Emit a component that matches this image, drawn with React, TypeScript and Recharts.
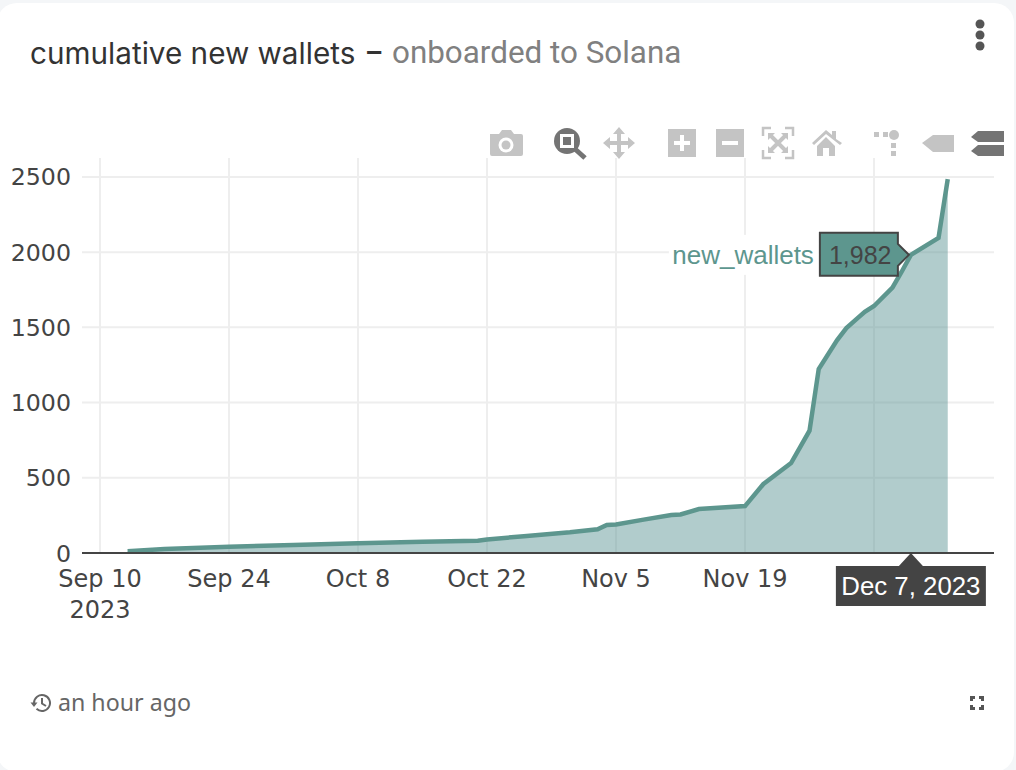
import React from 'react';
import { ComposedChart, Area, XAxis, YAxis, CartesianGrid, ReferenceDot } from 'recharts';

const dates = [
  '2023-09-13', '2023-09-17', '2023-09-24', '2023-10-01', '2023-10-08', '2023-10-15', '2023-10-21', '2023-10-22',
  '2023-10-26', '2023-10-31', '2023-11-03', '2023-11-04', '2023-11-05', '2023-11-08', '2023-11-11', '2023-11-12',
  '2023-11-14', '2023-11-19', '2023-11-21', '2023-11-24', '2023-11-26', '2023-11-27', '2023-11-29', '2023-11-30',
  '2023-12-01', '2023-12-02', '2023-12-03', '2023-12-05', '2023-12-06', '2023-12-07', '2023-12-10', '2023-12-11',
];
const newWallets = [
  12, 26, 42, 54, 65, 74, 82, 90,
  112, 138, 158, 186, 190, 222, 252, 256,
  292, 312, 459, 598, 813, 1223, 1416, 1495,
  1550, 1604, 1642, 1764, 1870, 1982, 2095, 2485,
];
const xTickDates = ['2023-09-10', '2023-09-24', '2023-10-08', '2023-10-22', '2023-11-05', '2023-11-19', '2023-12-03'];
const xTickLabels = ['Sep 10', 'Sep 24', 'Oct 8', 'Oct 22', 'Nov 5', 'Nov 19', ''];
const yTicks = [0, 500, 1000, 1500, 2000, 2500];

const DAY = 86400000;
const toTime = (d: string) => Date.parse(d + 'T00:00:00Z');
const xDomain = [toTime('2023-09-10') - 1.95 * DAY, toTime('2023-09-10') + 97.02 * DAY];

const chartData = dates.map((d, i) => ({ t: toTime(d), new_wallets: newWallets[i] }));

const LINE = '#5d968e';
const DARK = '#444444';
const TICK_FONT = '"DejaVu Sans", Verdana, sans-serif';
const HOVER_FONT = '"Liberation Sans", Arial, sans-serif';

const XTick = ({ x, y, payload, index }: any) => {
  const i = xTickDates.map(toTime).indexOf(payload.value);
  const label = xTickLabels[i >= 0 ? i : index];
  return (
    <text x={x} y={y} textAnchor="middle" fontFamily={TICK_FONT} fontSize={24} fill={DARK}>
      <tspan x={x} dy={26}>{label}</tspan>
      {i === 0 && <tspan x={x} dy={31}>2023</tspan>}
    </text>
  );
};

const YTick = ({ x, y, payload }: any) => (
  <text x={x} y={y} dy={8.5} textAnchor="end" fontFamily={TICK_FONT} fontSize={23.7} fill={DARK}>
    {payload.value}
  </text>
);

// hover label anchored on the data point
const HoverLabel = ({ cx, cy }: any) => {
  const tip = cx - 2;
  const right = cx - 13;
  const left = cx - 91;
  const top = cy - 22;
  const bottom = cy + 21;
  const box = `M${left} ${top}H${right}V${cy - 11}L${tip} ${cy}L${right} ${cy + 11}V${bottom}H${left}Z`;
  return (
    <g>
      <rect x={cx - 242} y={cy - 20} width={150} height={40} fill="#ffffff" />
      <text x={cx - 97} y={cy + 9} textAnchor="end" fontFamily={HOVER_FONT} fontSize={26} fill={LINE}>
        new_wallets
      </text>
      <path d={box} fill={LINE} stroke={DARK} strokeWidth={2} />
      <text x={cx - 82} y={cy + 9} fontFamily={HOVER_FONT} fontSize={25} fill={DARK}>
        1,982
      </text>
    </g>
  );
};

const DateLabel = ({ cx, cy }: any) => (
  <g>
    <path d={`M${cx - 12} ${cy + 13}L${cx} ${cy}L${cx + 12} ${cy + 13}Z`} fill={DARK} />
    <rect x={cx - 75} y={cy + 13} width={150} height={40} fill={DARK} />
    <text x={cx} y={cy + 42} textAnchor="middle" fontFamily={HOVER_FONT} fontSize={25.8} fill="#ffffff">
      Dec 7, 2023
    </text>
  </g>
);

const I = ({ x, y, w, h, children }: any) => (
  <svg width={w} height={h} viewBox={`0 0 ${w} ${h}`} style={{ position: 'absolute', left: x, top: y }}>
    {children}
  </svg>
);

// plotly-style toolbar above the plot
const ModeBar = () => {
  const g = '#c4c4c4';
  const on = '#747474';
  return (
    <>
      <I x={489} y={128} w={36} h={30}>
        <path d="M1 6h9l3-4h9l3 4h7a2 2 0 0 1 2 2v18a2 2 0 0 1-2 2H3a2 2 0 0 1-2-2Z" fill={g} />
        <circle cx={17} cy={17} r={7.5} fill="#fff" />
        <circle cx={17} cy={17} r={4.5} fill={g} />
      </I>
      <I x={552} y={126} w={36} h={34}>
        <circle cx={15} cy={15} r={13} fill={on} />
        <rect x={8} y={8} width={14} height={14} fill="#fff" />
        <rect x={11} y={11} width={8} height={8} fill={on} />
        <path d="M23 23L33 32" stroke={on} strokeWidth={5} />
      </I>
      <I x={601} y={126} w={36} h={34}>
        <path d="M18 1l6 7h-4v7h7v-4l7 6-7 6v-4h-7v7h4l-6 7-6-7h4v-7H9v4l-7-6 7-6v4h7V8h-4Z" fill={g} />
      </I>
      <I x={667} y={128} w={30} h={30}>
        <rect x={1} y={1} width={28} height={28} fill={g} />
        <path d="M15 7v16M7 15h16" stroke="#fff" strokeWidth={4} />
      </I>
      <I x={715} y={128} w={30} h={30}>
        <rect x={1} y={1} width={28} height={28} fill={g} />
        <path d="M7 15h16" stroke="#fff" strokeWidth={4} />
      </I>
      <I x={761} y={126} w={34} h={34}>
        <path d="M10 2H2v8M24 2h8v8M32 24v8h-8M2 24v8h8" stroke={g} strokeWidth={2.5} fill="none" />
        <path d="M10 10L24 24M24 10L10 24" stroke={g} strokeWidth={4} />
        <path d="M7 7h7l-7 7ZM27 7h-7l7 7ZM7 27h7l-7-7ZM27 27h-7l7-7Z" fill={g} />
      </I>
      <I x={811} y={128} w={32} h={30}>
        <path d="M1 15L15 2l6 5V3h4v8l6 4-2 2L15 6 3 17Z" fill={g} />
        <path d="M6 18l9-9 9 9v10h-6v-8h-6v8H6Z" fill={g} />
      </I>
      <I x={872} y={128} w={32} h={30}>
        <rect x={2} y={4} width={5} height={5} fill={g} />
        <rect x={11} y={4} width={5} height={5} fill={g} />
        <circle cx={22} cy={7} r={5} fill={g} />
        <rect x={19} y={15} width={5} height={5} fill={g} />
        <rect x={19} y={23} width={5} height={5} fill={g} />
      </I>
      <I x={920} y={132} w={36} h={22}>
        <path d="M2 11L13 3h21v17H13Z" fill={g} />
      </I>
      <I x={970} y={130} w={34} h={28}>
        <path d="M1 7L8 1h26v11H8Z" fill={on} />
        <path d="M1 21l7-6h26v11H8Z" fill={on} />
      </I>
    </>
  );
};

const App: React.FC = () => {
  return (
    <div style={{ position: 'absolute', left: 0, top: 0, width: 1016, height: 770, background: '#f4f6f8', overflow: 'hidden' }}>
      <div style={{ position: 'absolute', left: -3, top: 3, width: 1017, height: 769, background: '#fff', borderRadius: 20 }} />
      <div style={{ position: 'absolute', left: 30, top: 35, fontFamily: 'Inter, sans-serif', fontSize: 29.7, lineHeight: '36px', color: '#333', whiteSpace: 'nowrap' }}>
        cumulative new wallets
      </div>
      <div style={{ position: 'absolute', left: 365, top: 35, fontFamily: 'Roboto, sans-serif', fontWeight: 700, fontSize: 28, lineHeight: '36px', color: '#333' }}>–</div>
      <div style={{ position: 'absolute', left: 392, top: 34, fontFamily: 'Roboto, sans-serif', fontSize: 31.4, lineHeight: '38px', color: '#808080', whiteSpace: 'nowrap' }}>
        onboarded to Solana
      </div>
      <I x={970} y={16} w={20} h={38}>
        <circle cx={10} cy={8} r={4.5} fill="#555" />
        <circle cx={10} cy={19} r={4.5} fill="#555" />
        <circle cx={10} cy={30} r={4.5} fill="#555" />
      </I>
      <div style={{ position: 'absolute', left: 0, top: 0 }}>
        <ComposedChart width={1016} height={770} data={chartData} margin={{ top: 158, right: 22, bottom: 0, left: 0 }}>
          <CartesianGrid stroke="#eeeeee" strokeWidth={2} syncWithTicks />
          <XAxis
            dataKey="t"
            type="number"
            scale="linear"
            domain={xDomain}
            ticks={xTickDates.map(toTime)}
            interval={0}
            height={217}
            tick={<XTick />}
            tickLine={false}
            axisLine={{ stroke: DARK, strokeWidth: 2 }}
          />
          <YAxis
            type="number"
            domain={[0, 2626]}
            ticks={yTicks}
            width={82}
            tick={<YTick />}
            tickSize={0}
            tickMargin={11}
            axisLine={false}
          />
          <Area
            type="linear"
            dataKey="new_wallets"
            stroke={LINE}
            strokeWidth={4.5}
            fill="#5f9797"
            fillOpacity={0.49}
            isAnimationActive={false}
            dot={false}
            activeDot={false}
          />
          <ReferenceDot x={toTime('2023-12-07')} y={1982} shape={<HoverLabel />} ifOverflow="visible" />
          <ReferenceDot x={toTime('2023-12-07')} y={0} shape={<DateLabel />} ifOverflow="visible" />
        </ComposedChart>
      </div>
      <ModeBar />
      <I x={30} y={692} w={22} h={22}>
        <path d="M4 11a8 8 0 1 1 2.5 5.8" stroke="#666" strokeWidth={2} fill="none" />
        <path d="M0.5 10.5h7L4 15Z" fill="#666" />
        <path d="M12 6v5.5l4 2.5" stroke="#666" strokeWidth={2} fill="none" />
      </I>
      <div style={{ position: 'absolute', left: 58, top: 686, fontFamily: '"Noto Sans", sans-serif', fontSize: 23.2, lineHeight: '32px', color: '#666', whiteSpace: 'nowrap' }}>
        an hour ago
      </div>
      <I x={970} y={696} w={14} h={14}>
        <path d="M1.5 5V1.5H5M9 1.5h3.5V5M12.5 9v3.5H9M5 12.5H1.5V9" stroke="#555" strokeWidth={3} fill="none" />
      </I>
    </div>
  );
};

export default App;
